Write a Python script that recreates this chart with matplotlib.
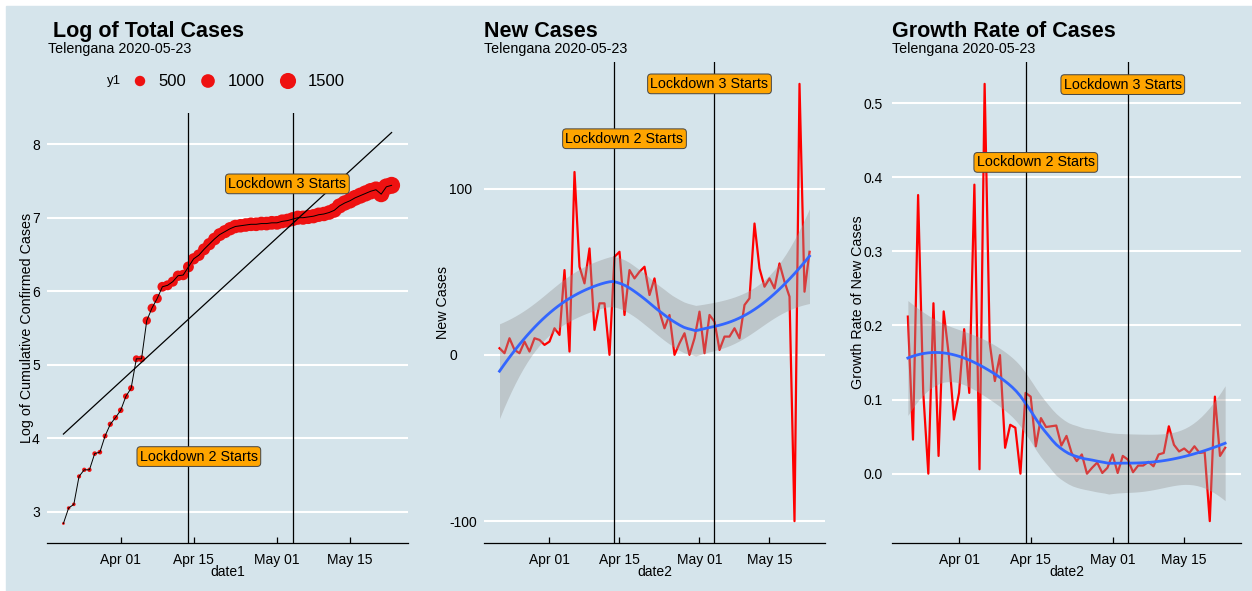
import numpy as np
import pandas as pd
import matplotlib
matplotlib.use("Agg")
import matplotlib.pyplot as plt
import matplotlib.dates as mdates
from matplotlib.patches import Rectangle

plt.rcParams['font.family'] = ['Liberation Sans', 'DejaVu Sans']

# ---- data (Telengana, 2020-03-21 .. 2020-05-23) ----
log_total = [2.84, 3.05, 3.10, 3.48, 3.57, 3.57, 3.79, 3.81, 4.03, 4.19,
             4.28, 4.38, 4.57, 4.68, 5.08, 5.08, 5.60, 5.77, 5.90, 6.06,
             6.08, 6.13, 6.21, 6.22, 6.33, 6.44, 6.49, 6.57, 6.64, 6.71,
             6.77, 6.81, 6.85, 6.88, 6.89, 6.90, 6.91, 6.91, 6.92, 6.92,
             6.93, 6.93, 6.95, 6.96, 6.98, 7.00, 7.00, 7.01, 7.02, 7.04,
             7.05, 7.07, 7.10, 7.16, 7.20, 7.23, 7.27, 7.30, 7.33, 7.36,
             7.38, 7.32, 7.42, 7.44]

new_cases = [4, 1, 10, 3, 1, 8, 2, 10, 9, 6,
             8, 16, 12, 51, 2, 110, 53, 43, 64, 15,
             31, 31, 0, 59, 62, 24, 51, 46, 50, 53,
             36, 46, 26, 16, 24, 0, 7, 13, 0, 10,
             26, 1, 24, 20, 3, 11, 11, 16, 10, 30,
             34, 79, 52, 41, 46, 40, 55, 44, 35, -100,
             163, 38, 62]

growth_rate = [0.212, 0.046, 0.376, 0.110, 0.000, 0.230, 0.024, 0.219, 0.160, 0.073,
               0.109, 0.195, 0.109, 0.390, 0.006, 0.526, 0.176, 0.125, 0.160, 0.035,
               0.066, 0.062, 0.000, 0.109, 0.104, 0.037, 0.075, 0.063, 0.064, 0.065,
               0.038, 0.051, 0.028, 0.017, 0.026, 0.000, 0.008, 0.015, 0.001, 0.008,
               0.026, 0.001, 0.024, 0.019, 0.002, 0.011, 0.011, 0.016, 0.010, 0.026,
               0.028, 0.064, 0.039, 0.030, 0.034, 0.028, 0.037, 0.028, 0.029, -0.064,
               0.104, 0.024, 0.035]

dates1 = pd.date_range("2020-03-21", periods=len(log_total))
dates2 = pd.date_range("2020-03-22", periods=len(new_cases))
lockdown_dates = ["2020-04-14", "2020-05-04"]
lockdown_labels = ["Lockdown 2 Starts", "Lockdown 3 Starts"]
label_dates = ["2020-04-16", "2020-05-03"]
label_y1 = [3.75, 7.46]
label_y2 = [130, 163]
label_y3 = [0.42, 0.525]
size_breaks = [500, 1000, 1500]

subtitle = "Telengana 2020-05-23"
BG = "#d5e4eb"
W, H = 1252, 591


def loess(x, y, xg, span=0.75):
    x = np.asarray(x, float)
    y = np.asarray(y, float)
    n = len(x)
    q = int(np.floor(n * span))

    def row(x0):
        d = np.abs(x - x0)
        h = np.sort(d)[q - 1]
        w = np.clip(1 - (d / h) ** 3, 0, None) ** 3
        X = np.column_stack([np.ones(n), x - x0, (x - x0) ** 2])
        A = X.T @ (w[:, None] * X)
        return np.linalg.solve(A, (X * w[:, None]).T)[0]

    L = np.array([row(v) for v in x])
    res = y - L @ y
    M = (np.eye(n) - L).T @ (np.eye(n) - L)
    d1 = np.trace(M)
    d2 = np.trace(M @ M)
    sigma = np.sqrt(res @ res / d1)
    df = d1 ** 2 / d2
    z = 1.959964
    t = z + (z ** 3 + z) / (4 * df) + (5 * z ** 5 + 16 * z ** 3 + 3 * z) / (96 * df ** 2)
    Lg = np.array([row(v) for v in xg])
    fit = Lg @ y
    se = sigma * np.sqrt((Lg ** 2).sum(axis=1))
    return fit, fit - t * se, fit + t * se


def point_size(v, vmin, vmax):
    # ggplot2 scale_size: area palette, range 1..6
    size = 1 + 5 * np.sqrt((np.asarray(v, float) - vmin) / (vmax - vmin))
    return (size * 2.04) ** 2


def add_ax(l, t, r, b):
    ax = fig.add_axes([l / W, 1 - b / H, (r - l) / W, (b - t) / H])
    ax.set_facecolor("none")
    return ax


def style(ax, x, ylo, yhi, yticks, yfmt, ylabel, xlabel, ypad, ylab_x):
    x0, x1 = x.min(), x.max()
    ax.set_xlim(x0 - 0.05 * (x1 - x0), x1 + 0.05 * (x1 - x0))
    ax.set_ylim(ylo - 0.05 * (yhi - ylo), yhi + 0.05 * (yhi - ylo))
    for s in ["top", "right", "left"]:
        ax.spines[s].set_visible(False)
    ax.spines["bottom"].set_linewidth(0.9)
    ax.xaxis.set_major_locator(mdates.DayLocator(bymonthday=[1, 15]))
    ax.xaxis.set_major_formatter(mdates.DateFormatter("%b %d"))
    ax.tick_params(axis="x", direction="in", length=4.5, width=0.9, labelsize=10, pad=7)
    ax.set_yticks(yticks)
    ax.set_yticklabels([yfmt.format(v) for v in yticks])
    ax.tick_params(axis="y", length=0, labelsize=10, pad=ypad)
    plt.setp(ax.get_yticklabels(), ha="left")
    ax.grid(axis="y", color="white", linewidth=1.5)
    ax.set_axisbelow(True)
    ax.set_ylabel(ylabel, fontsize=10.3)
    ax.yaxis.set_label_coords(ylab_x, 0.5)
    ax.set_xlabel(xlabel, fontsize=10, labelpad=-1)


def lockdowns(ax, ys):
    for d in lockdown_dates:
        ax.axvline(pd.Timestamp(d), color="black", linewidth=0.9, zorder=4)
    for d, txt, yv in zip(label_dates, lockdown_labels, ys):
        ax.text(pd.Timestamp(d), yv, txt, fontsize=10.3, ha="center", va="center", zorder=6,
                bbox=dict(boxstyle="round,pad=0.2,rounding_size=0.25", fc="#FFA500",
                          ec="#444444", lw=0.7))


fig = plt.figure(figsize=(W / 100, H / 100), dpi=100)
fig.patch.set_facecolor("white")

ov = fig.add_axes([0, 0, 1, 1], zorder=-1)
ov.set_xlim(0, W)
ov.set_ylim(H, 0)
ov.axis("off")
ov.add_patch(Rectangle((6, 6), W - 6, H - 6, color=BG, zorder=0))

# titles
for tx, sx, title in [(53, 48, "Log of Total Cases"), (484, 484, "New Cases"),
                      (892, 892, "Growth Rate of Cases")]:
    ov.text(tx, 37, title, fontsize=15.5, fontweight="bold", va="baseline")
    ov.text(sx, 53, subtitle, fontsize=10.3, va="baseline")

# size legend of panel 1
cum = np.exp(np.array(log_total))
cmin, cmax = cum.min(), cum.max()
ov.text(107, 81, "y1", fontsize=9.5, va="center")
for xk, xt, b in zip([140, 208, 288], [158, 228, 308], size_breaks):
    ov.scatter([xk], [81], s=point_size(b, cmin, cmax), color="#EE1111", edgecolors="none")
    ov.text(xt, 81, str(b), fontsize=12, va="center")

# ---- panel 1 ----
ax1 = add_ax(47, 113, 408, 543)
x1 = mdates.date2num(dates1)
y1 = np.array(log_total)
ax1.scatter(dates1, y1, s=point_size(cum, cmin, cmax), color="#EE1111", edgecolors="none", zorder=2)
ax1.plot(dates1, y1, color="black", linewidth=0.7, zorder=3)
coef = np.polyfit(x1, y1, 1)
xl = np.array([x1.min(), x1.max()])
ax1.plot(mdates.num2date(xl), np.polyval(coef, xl), color="black", linewidth=0.9, zorder=3)
lockdowns(ax1, label_y1)
lo1 = min(y1.min(), np.polyval(coef, xl).min())
hi1 = max(y1.max(), np.polyval(coef, xl).max())
style(ax1, x1, lo1, hi1, [3, 4, 5, 6, 7, 8], "{:d}", "Log of Cumulative Confirmed Cases",
      "date1", 10.8, -0.036)

# ---- panel 2 ----
ax2 = add_ax(484, 62, 825, 543)
x2 = mdates.date2num(dates2)
y2 = np.array(new_cases, float)
xg = np.linspace(x2.min(), x2.max(), 80)
f2, l2, h2 = loess(x2, y2, xg)
ax2.plot(dates2, y2, color="#FF0000", linewidth=1.6, zorder=2)
ax2.fill_between(mdates.num2date(xg), l2, h2, color="#999999", alpha=0.4, linewidth=0, zorder=3)
ax2.plot(mdates.num2date(xg), f2, color="#3366FF", linewidth=2, zorder=3)
lockdowns(ax2, label_y2)
style(ax2, x2, min(y2.min(), l2.min()), max(y2.max(), h2.max()), [-100, 0, 100], "{:d}",
      "New Cases", "date2", 25.2, -0.100)

# ---- panel 3 ----
ax3 = add_ax(892, 62, 1241, 543)
y3 = np.array(growth_rate)
f3, l3, h3 = loess(x2, y3, xg)
ax3.plot(dates2, y3, color="#FF0000", linewidth=1.6, zorder=2)
ax3.fill_between(mdates.num2date(xg), l3, h3, color="#999999", alpha=0.4, linewidth=0, zorder=3)
ax3.plot(mdates.num2date(xg), f3, color="#3366FF", linewidth=2, zorder=3)
lockdowns(ax3, label_y3)
style(ax3, x2, min(y3.min(), l3.min()), max(y3.max(), h3.max()), [0.0, 0.1, 0.2, 0.3, 0.4, 0.5],
      "{:.1f}", "Growth Rate of New Cases", "date2", 20.2, -0.077)

fig.savefig("out.png", dpi=100, facecolor="white")
